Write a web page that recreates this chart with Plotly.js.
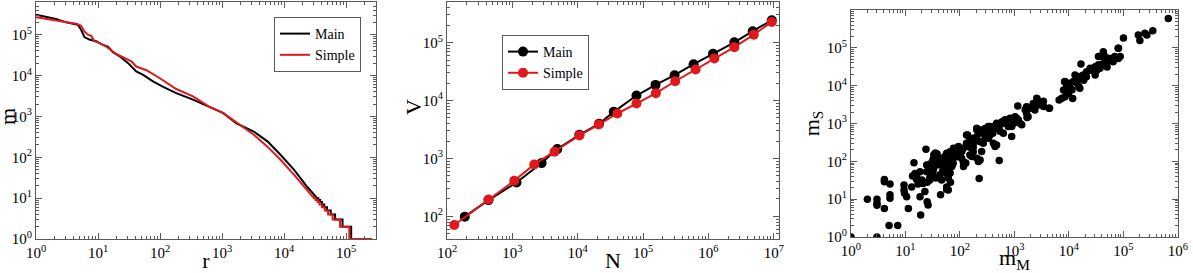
<!DOCTYPE html>
<html><head><meta charset="utf-8">
<script src="https://cdn.plot.ly/plotly-3.0.1.min.js"></script>
<style>html,body{margin:0;padding:0;background:#fff}#chart{width:1193px;height:273px}</style>
</head><body><div id="chart"></div>
<script>
// ---------- Panel 1: rank (r) vs mass (m) ----------
const rankMainR = [1, 2.1, 3.05, 4.71, 5.33, 6.03, 7.24, 9.33, 11.9, 14.4, 17.4, 22.4, 30.2, 41.2, 52.5, 76.7, 112, 182, 339, 631, 1047, 1698, 3236, 5370, 8710, 14450, 23440, 33880];
const rankMainM = [309000, 243000, 200000, 176000, 132000, 87100, 75900, 69200, 56200, 51300, 37200, 29500, 20400, 12600, 10500, 7240, 5250, 3720, 2570, 1700, 1200, 676, 427, 245, 115, 49, 19, 10];
const tailMainLevels = [10, 9, 8, 7, 6, 5, 4, 3, 2];
const tailMainDropR = [35500, 38000, 40700, 44200, 49000, 56200, 66100, 87100, 120000];
const tailMainEndR = 257000;

const rankSimpleR = [1, 2.1, 3.05, 4.43, 5.33, 6.03, 6.84, 7.76, 8.71, 10.5, 13.5, 16.2, 19.5, 25.1, 34.3, 41.2, 60.3, 97.7, 182, 339, 631, 1047, 1698, 3236, 5370, 8710, 14450, 23440, 30200];
const rankSimpleM = [269000, 224000, 200000, 186000, 166000, 120000, 100000, 93300, 69200, 63100, 51300, 42700, 33900, 28200, 22400, 16600, 13500, 8710, 4680, 3090, 1700, 1200, 724, 355, 182, 87, 37, 16, 10];
const tailSimpleLevels = [10, 9, 8, 7, 6, 5, 4, 3, 2];
const tailSimpleDropR = [32000, 34500, 37000, 40500, 45000, 51000, 60300, 79400, 112000];
const tailSimpleEndR = 257000;

// ---------- Panel 2: N vs V ----------
const mainN = [187, 431, 1156, 2800, 4860, 10600, 21200, 35600, 79200, 155000, 303000, 593000, 1175000, 2490000, 4760000, 9310000];
const mainV = [99, 191, 385, 832, 1449, 2560, 3960, 6380, 12200, 18600, 27300, 42300, 63800, 101000, 157000, 243000];
const simpleN = [129, 431, 1067, 2160, 4420, 10600, 20900, 40400, 79200, 157000, 310000, 637000, 1230000, 2490000, 4930000, 9310000];
const simpleV = [71, 196, 412, 789, 1303, 2490, 3850, 5970, 8870, 13400, 21500, 34200, 53000, 83200, 137000, 227000];

// ---------- Panel 3: m_M vs m_S ----------
const pairsMS = [
[1,1],[3,1],[2,10],[3,10],[3,7.8],[3,6.9],[4.1,33],[4.1,29],[4.1,5.7],[5.2,25],[5.2,13],[5.2,10.5],[5,2],[7.2,2],
[9.4,23.6],[9.4,17.5],[9.6,14.3],[10.5,11.6],[11.3,5.7],[13,21],[14.3,92],[15,48],[16,39],[18.5,53],[18.5,11.6],[19,3.8],
[20,32],[21,26],[23.8,209],[24.5,80],[25,8.6],[26,7],[24.5,53],[28,32],[30,39],[32,53],[30,72],[35,80],[37,120],[40,98],
[36,163],[33,147],[43,44],[46,32],[44,13],[53,59],[57,48],[61,39],[57,21],[61,17.5],[66,108],[70,147],[75,200],[87,220],
[75,89],[66,72],[87,132],[93,163],
[1150,2900],[1670,2770],[1920,2510],[2210,3400],[2570,4680],[2750,3090],[2370,2290],[1780,1510],[1670,1860],[1020,1510],
[1180,1230],[955,1120],[1260,1010],[890,830],[830,1380],[720,1230],[670,1010],[590,1120],[540,910],[470,1010],[500,740],
[410,830],[380,675],[330,830],[310,605],[270,550],[290,740],[250,675],[220,550],[204,447],[175,407],[152,363],[132,500],
[204,675],[234,331],[355,500],[410,302],[470,270],[525,105],[115,220],[100,178],[81,147],[70,132],[66,178],[57,163],
[53,108],[46,120],[40,108],[35,163],[32,108],[37,89],[43,80],[57,89],[66,98],[107,120],[115,98],[152,147],[175,178],
[204,120],[234,108],[152,234],[132,302],[175,234],[225,35],
[138,500],[203,750],[356,830],[470,830],[545,620],[625,550],[670,1250],[770,830],[890,450],[960,1000],[1100,1370],
[1360,920],[1570,2300],[1700,1450],[2600,4230],[2950,3400],[3420,2800],[4400,2530],[218,99],[116,73],[128,90],[100,134],
[164,134],[440,246],[290,450],[334,410],[268,302],[190,370],[176,302],[400,550],[311,680],[250,182],[108,182],[94,246],
[76,220],[73,114],[71,73],[50.6,81],[53,134],[38,155],[40,121],[32.5,114],[28,85],[33,66],[48,54],[67,28],[57,18],
[22.7,16],[28,36],[25,28],[36,36],[61,36],[66,49],[17,25],[16,33],[13.5,41],
[665000,600000],[187000,219000],[200000,155000],[247000,243000],[269000,219000],[345000,282000],[100000,182000],
[80000,98000],[42700,79000],[41700,65000],[34700,59000],[34700,35500],[45700,59000],[56200,52500],[60300,47900],
[69200,59000],[80400,52500],[87100,59000],[64600,42700],[49000,40700],[39800,35500],[37200,28800],[32400,25700],
[30200,31600],[26300,25700],[24500,28800],[21100,23400],[18200,19100],[15800,17400],[16600,37200],[13800,15700],
[12900,19100],[12000,12900],[10500,11500],[9100,9300],[8500,12900],[7940,7670],[9100,6900],[10500,8500],[9800,6300],
[8500,5100],[7400,4680],[6600,4200],[15800,8500],[4300,2510],[11700,4600],[8300,12600],[9270,10400],[11400,7770],
[14000,11700],[15100,9500],[18600,14000],[20900,17200],[28000,26000],[30200,19200],[32000,31000],[46000,42000],
[50000,31000],[53000,52000],[81000,97000],[40000,58000],[3400,3900],[3000,3700]
];
const massMain = pairsMS.map(p => p[0]);
const massSimple = pairsMS.map(p => p[1]);

const majorVals1 = [1, 10, 100, 1000, 10000, 100000, 1000000, 10000000];
const majorText1 = ['10<sup>0</sup>','10<sup>1</sup>','10<sup>2</sup>','10<sup>3</sup>','10<sup>4</sup>','10<sup>5</sup>','10<sup>6</sup>','10<sup>7</sup>'];

// ---------- build helpers ----------
function withTail(r, m, drops, levels, endR) {
  const xr = r.slice(), ym = m.slice();
  for (let i = 0; i < drops.length; i++) {
    xr.push(drops[i]); ym.push(levels[i]);
    xr.push(drops[i]); ym.push(levels[i] - 1);
  }
  xr.push(endR); ym.push(levels[levels.length - 1] - 1);
  return [xr, ym];
}
function minorVals(lo, hi) {
  const v = [];
  for (let k = lo; k <= hi; k++) for (let d = 2; d <= 9; d++) v.push(d * Math.pow(10, k));
  return v;
}

const BLACK = '#000000', RED = '#e0181b', FRAME = '#5a5a5a';
const SERIF = 'Liberation Serif, Times New Roman, serif';

const [mx, my] = withTail(rankMainR, rankMainM, tailMainDropR, tailMainLevels, tailMainEndR);
const [sx, sy] = withTail(rankSimpleR, rankSimpleM, tailSimpleDropR, tailSimpleLevels, tailSimpleEndR);

const traces = [
  {x: mx, y: my, type: 'scatter', mode: 'lines', name: 'Main', line: {color: BLACK, width: 2}, xaxis: 'x', yaxis: 'y', legend: 'legend'},
  {x: sx, y: sy, type: 'scatter', mode: 'lines', name: 'Simple', line: {color: RED, width: 2}, xaxis: 'x', yaxis: 'y', legend: 'legend'},
  {x: mainN, y: mainV, type: 'scatter', mode: 'lines+markers', name: 'Main', line: {color: BLACK, width: 2}, marker: {color: BLACK, size: 10}, xaxis: 'x2', yaxis: 'y2', legend: 'legend2'},
  {x: simpleN, y: simpleV, type: 'scatter', mode: 'lines+markers', name: 'Simple', line: {color: RED, width: 2}, marker: {color: RED, size: 10}, xaxis: 'x2', yaxis: 'y2', legend: 'legend2'},
  {x: massMain, y: massSimple, type: 'scatter', mode: 'markers', name: 'pairs', marker: {color: BLACK, size: 7.5}, xaxis: 'x3', yaxis: 'y3', showlegend: false}
];

function axis(extra, lo, hi, titleText, standoff) {
  return Object.assign({
    type: 'log', showline: true, linecolor: FRAME, linewidth: 1, mirror: 'allticks',
    ticks: 'inside', ticklen: 6, tickwidth: 1, tickcolor: FRAME,
    showgrid: false, zeroline: false, tickmode: 'array',
    tickvals: majorVals1, ticktext: majorText1,
    tickfont: {family: SERIF, size: 15, color: '#000'},
    minor: {ticks: 'inside', ticklen: 3, tickwidth: 1, tickcolor: FRAME, showgrid: false, tickmode: 'array', tickvals: minorVals(lo, hi)},
    title: {text: titleText, font: {family: SERIF, size: 22, color: '#000'}, standoff: standoff},
    automargin: false, fixedrange: true
  }, extra);
}

const layout = {
  width: 1193, height: 273,
  margin: {l: 0, r: 0, t: 0, b: 0},
  paper_bgcolor: '#fff', plot_bgcolor: '#fff',
  font: {family: SERIF, color: '#000'},
  xaxis: axis({domain: [0.0302, 0.3152], range: [0, 5.48], anchor: 'y'}, 0, 6, 'r', 2),
  yaxis: axis({domain: [0.1245, 0.9927], range: [0, 5.8], anchor: 'x'}, 0, 6, '', 1),
  xaxis2: axis({domain: [0.3747, 0.6530], range: [2, 7.08], anchor: 'y2'}, 2, 7, 'N', 2),
  yaxis2: axis({domain: [0.1245, 0.9927], range: [1.61, 5.70], anchor: 'x2'}, 1, 6, '', 1),
  xaxis3: axis({domain: [0.7133, 0.9874], range: [0, 6], anchor: 'y3'}, 0, 6, 'm<sub>M</sub>', 1),
  yaxis3: axis({domain: [0.1319, 0.9634], range: [0, 6], anchor: 'x3'}, 0, 6, 'm<sub>S</sub>', 1),
  annotations: [
    {text: 'm', xref: 'paper', yref: 'paper', x: 7 / 1193, y: 1 - 117 / 273, xanchor: 'center', yanchor: 'middle',
     textangle: -90, showarrow: false, font: {family: SERIF, size: 22, color: '#000'}},
    {text: 'V', xref: 'paper', yref: 'paper', x: 414 / 1193, y: 1 - 107 / 273, xanchor: 'center', yanchor: 'middle',
     textangle: -90, showarrow: false, font: {family: SERIF, size: 22, color: '#000'}}
  ],
  legend: {x: 0.2297, y: 0.9377, xanchor: 'left', yanchor: 'top', bgcolor: '#fff', bordercolor: FRAME, borderwidth: 1,
           font: {family: SERIF, size: 14, color: '#000'}, tracegroupgap: 0, itemwidth: 30},
  legend2: {x: 0.4208, y: 0.8718, xanchor: 'left', yanchor: 'top', bgcolor: '#fff', bordercolor: FRAME, borderwidth: 1,
           font: {family: SERIF, size: 14, color: '#000'}, tracegroupgap: 0, itemwidth: 30},
  showlegend: true
};

Plotly.newPlot('chart', traces, layout, {displayModeBar: false, staticPlot: true});
</script>
</body></html>
